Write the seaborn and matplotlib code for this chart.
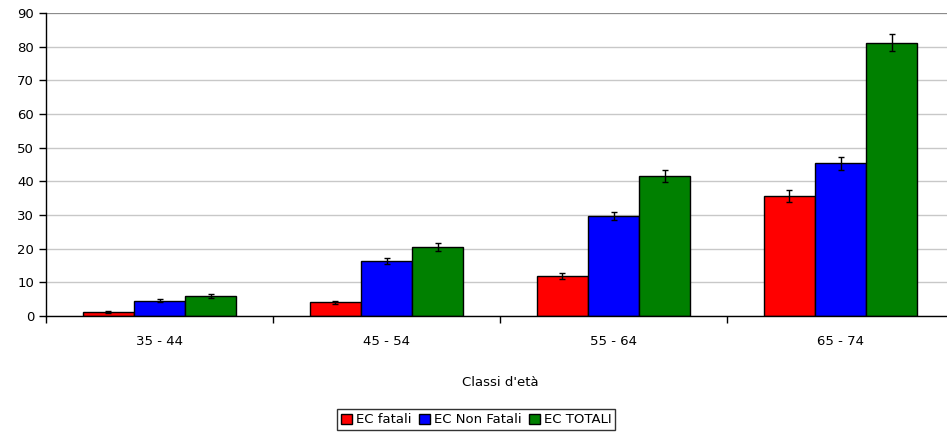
import pandas as pd
import matplotlib.pyplot as plt
import seaborn as sns

# dati
classi = ['35 - 44', '45 - 54', '55 - 64', '65 - 74']
serie = ['EC fatali', 'EC Non Fatali', 'EC TOTALI']
fatali = [1.1, 4.1, 11.9, 35.6]
non_fatali = [4.6, 16.3, 29.7, 45.3]
totali = [5.9, 20.5, 41.6, 81.2]
err_fatali = [0.3, 0.5, 0.9, 1.7]
err_non_fatali = [0.4, 1.0, 1.3, 2.0]
err_totali = [0.6, 1.1, 1.9, 2.5]

colori = ['#FF0000', '#0000FF', '#008000']

df = pd.DataFrame({
    'Classe': classi * 3,
    'Serie': [s for s in serie for _ in classi],
    'Valore': fatali + non_fatali + totali,
    'Err': err_fatali + err_non_fatali + err_totali,
})

sns.set_style('white')
plt.rcParams['font.family'] = ['DejaVu Sans']
plt.rcParams['text.color'] = 'black'
plt.rcParams['axes.labelcolor'] = 'black'
plt.rcParams['xtick.color'] = 'black'
plt.rcParams['ytick.color'] = 'black'

fig = plt.figure(figsize=(9.47, 4.34), dpi=100)
ax = fig.add_axes([46 / 947, 118 / 434, 908 / 947, 303 / 434])

sns.barplot(data=df, x='Classe', y='Valore', hue='Serie', palette=colori,
            width=0.675, edgecolor='black', linewidth=1, errorbar=None,
            saturation=1, ax=ax, legend=True)

# barre di errore sui centri delle barre
for cont, s in zip(ax.containers, serie):
    sub = df[df['Serie'] == s]
    xs = [p.get_x() + p.get_width() / 2 for p in cont.patches]
    ax.errorbar(xs, sub['Valore'].values, yerr=sub['Err'].values, fmt='none',
                ecolor='black', elinewidth=1, capsize=2.5, capthick=1, zorder=5)

ax.set_ylim(0, 90)
ax.set_xlim(-0.5, 3.5)
ax.set_yticks(range(0, 91, 10))
ax.yaxis.grid(True, color='#c8c8c8', linewidth=1)
ax.set_axisbelow(True)
ax.axhline(90, color='#8c8c8c', linewidth=1.5, zorder=1)

for side in ['top', 'right']:
    ax.spines[side].set_visible(False)
for side in ['left', 'bottom']:
    ax.spines[side].set_color('black')
    ax.spines[side].set_linewidth(1)

ax.set_xticks([-0.5, 0.5, 1.5, 2.5], minor=True)
ax.tick_params(axis='x', which='major', length=0, labelsize=9.5, pad=14,
               labelcolor='black')
ax.tick_params(axis='x', which='minor', bottom=True, length=5, width=1,
               color='black', direction='out')
ax.tick_params(axis='y', left=True, length=5, width=1, color='black',
               direction='out', labelsize=9.5, labelcolor='black')

ax.set_xlabel("Classi d'età", fontsize=9.5, labelpad=20, color='black')
ax.set_ylabel('')

ax.legend_.remove()
leg = fig.legend(*ax.get_legend_handles_labels(), loc='center', ncol=3,
                 bbox_to_anchor=(0.503, 0.033), fontsize=9.5, frameon=True,
                 fancybox=False, edgecolor='black', handlelength=0.8,
                 handleheight=0.8, handletextpad=0.3, columnspacing=0.6,
                 borderpad=0.3, borderaxespad=0)
leg.get_frame().set_linewidth(1)

plt.savefig('out.png', dpi=100)
